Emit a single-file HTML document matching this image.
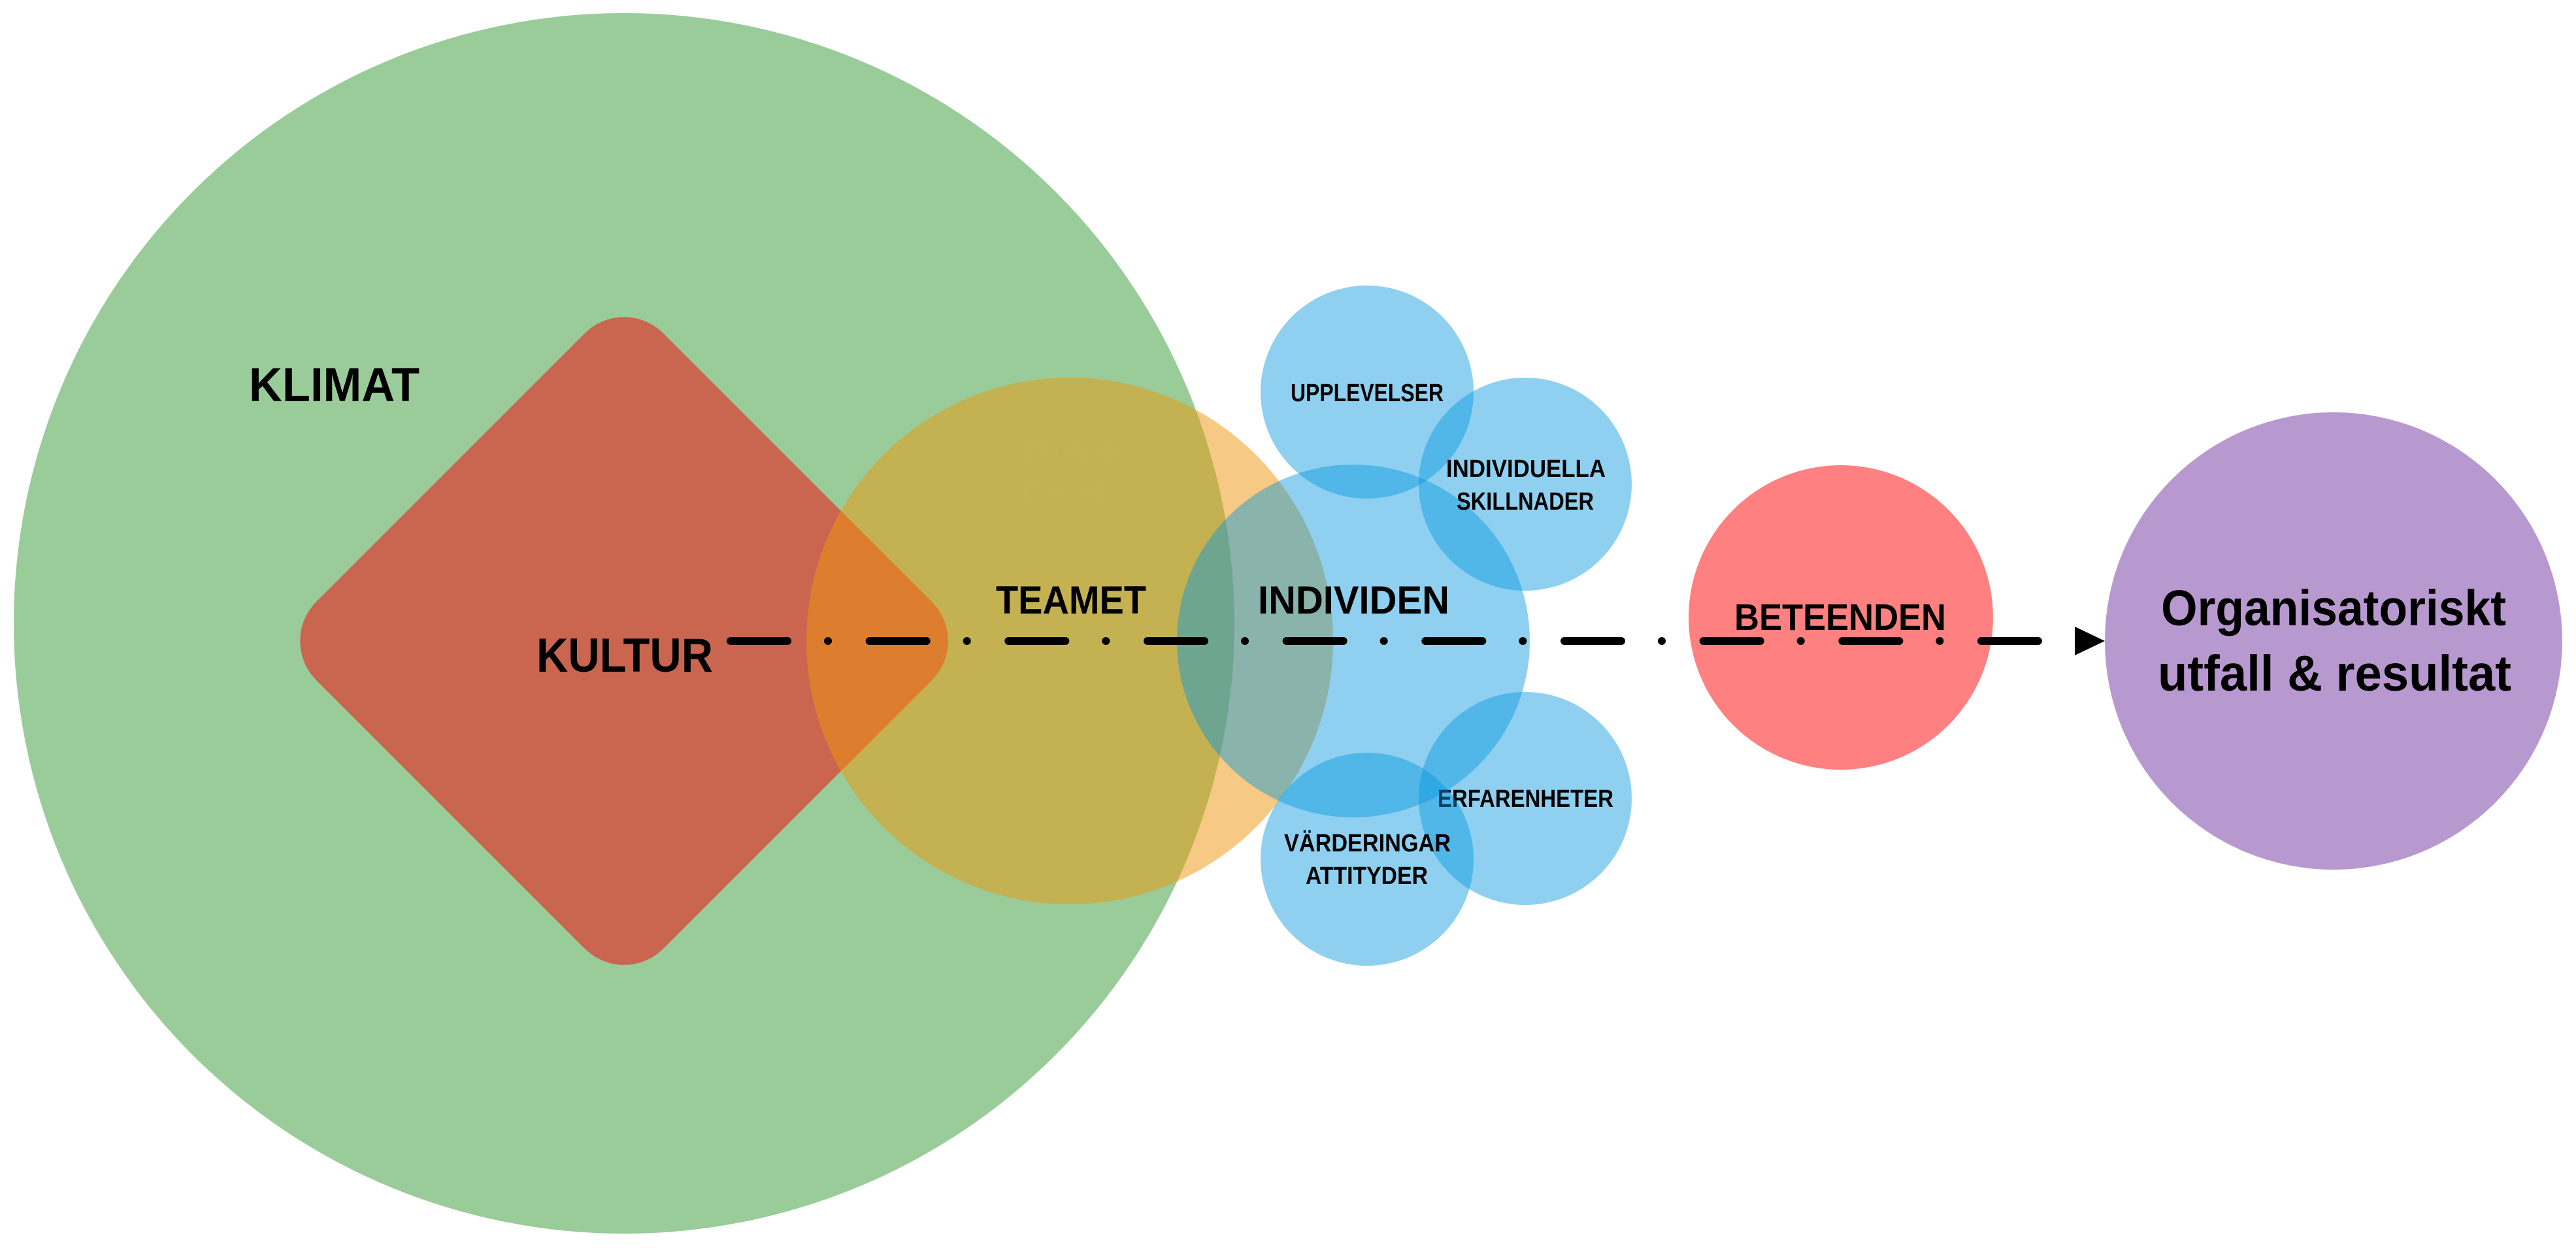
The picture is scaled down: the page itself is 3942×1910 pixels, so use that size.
<!DOCTYPE html>
<html>
<head>
<meta charset="utf-8">
<style>
  html, body { margin: 0; padding: 0; background: #ffffff; }
  svg { display: block; }
  text { font-family: "Liberation Sans", Arial, sans-serif; font-weight: bold; fill: #000; }
</style>
</head>
<body>
<svg width="3942" height="1910" viewBox="0 0 3942 1910" xmlns="http://www.w3.org/2000/svg">
  <rect x="0" y="0" width="3942" height="1910" fill="#ffffff"/>

  <!-- KLIMAT big green circle -->
  <circle cx="955" cy="954" r="934" fill="#9ACC99"/>

  <!-- KULTUR rounded diamond -->
  <rect x="579.5" y="605.5" width="751" height="751" rx="85" ry="85" fill="#CA6650" transform="rotate(45 955 981)"/>

  <!-- TEAMET orange circle -->
  <circle cx="1637" cy="981" r="403" fill="rgb(237,149,9)" fill-opacity="0.5"/>

  <!-- faint Human Factors text -->
  <text x="1563" y="706" font-size="48" textLength="153" lengthAdjust="spacingAndGlyphs" style="font-weight:normal;fill:#C6B254">Human</text>
  <text x="1563" y="766" font-size="48" textLength="153" lengthAdjust="spacingAndGlyphs" style="font-weight:normal;fill:#C6B254">Factors</text>

  <!-- INDIVIDEN blue circle -->
  <circle cx="2071" cy="981" r="270" fill="rgb(7,151,222)" fill-opacity="0.45"/>
  <!-- small blue circles -->
  <circle cx="2092" cy="600" r="163" fill="rgb(7,151,222)" fill-opacity="0.45"/>
  <circle cx="2334" cy="741" r="163" fill="rgb(7,151,222)" fill-opacity="0.45"/>
  <circle cx="2334" cy="1222" r="163" fill="rgb(7,151,222)" fill-opacity="0.45"/>
  <text x="2200" y="1235" font-size="38" textLength="269" lengthAdjust="spacingAndGlyphs">ERFARENHETER</text>
  <circle cx="2092" cy="1315" r="163" fill="rgb(7,151,222)" fill-opacity="0.45"/>

  <!-- BETEENDEN red circle -->
  <circle cx="2817" cy="945" r="233" fill="#FF8080"/>

  <!-- Purple outcome circle -->
  <circle cx="3571" cy="981" r="350" fill="#B799D0"/>

  <!-- Labels -->
  <text x="381" y="614" font-size="73" textLength="261" lengthAdjust="spacingAndGlyphs">KLIMAT</text>
  <text x="821" y="1028" font-size="73" textLength="270" lengthAdjust="spacingAndGlyphs">KULTUR</text>
  <text x="1524" y="939" font-size="60" textLength="230" lengthAdjust="spacingAndGlyphs">TEAMET</text>
  <text x="1925" y="939" font-size="60" textLength="293" lengthAdjust="spacingAndGlyphs">INDIVIDEN</text>

  <text x="1975" y="614" font-size="38" textLength="234" lengthAdjust="spacingAndGlyphs">UPPLEVELSER</text>
  <text x="2213" y="730" font-size="38" textLength="244" lengthAdjust="spacingAndGlyphs">INDIVIDUELLA</text>
  <text x="2229" y="780" font-size="38" textLength="210" lengthAdjust="spacingAndGlyphs">SKILLNADER</text>
  <text x="1965" y="1303" font-size="38" textLength="255" lengthAdjust="spacingAndGlyphs">VÄRDERINGAR</text>
  <text x="1998" y="1353" font-size="38" textLength="187" lengthAdjust="spacingAndGlyphs">ATTITYDER</text>

  <text x="2654" y="964" font-size="57" textLength="324" lengthAdjust="spacingAndGlyphs">BETEENDEN</text>

  <text x="3307" y="957" font-size="77" textLength="528" lengthAdjust="spacingAndGlyphs">Organisatoriskt</text>
  <text x="3302" y="1057" font-size="77" textLength="541" lengthAdjust="spacingAndGlyphs">utfall &amp; resultat</text>

  <!-- dash-dot connector -->
  <path d="M1118 981 H3119" stroke="#000" stroke-width="12" stroke-linecap="round" fill="none" stroke-dasharray="87 62 0.01 63.66"/>
  <!-- arrowhead -->
  <polygon points="3175,959 3175,1003 3221,981" fill="#000"/>
</svg>
</body>
</html>
